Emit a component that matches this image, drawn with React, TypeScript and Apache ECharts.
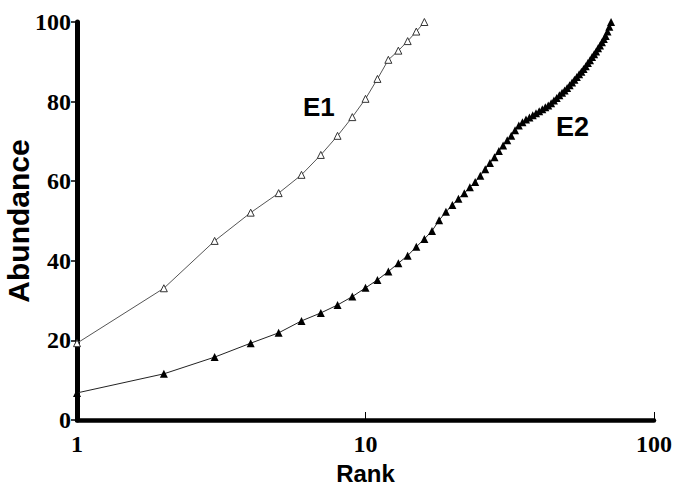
import React, { useEffect, useRef } from "react";
import * as echarts from "echarts";

const e1Abundance = [19.3, 33.1, 45, 52.1, 57, 61.6, 66.6, 71.4, 76.1, 80.7, 85.7, 90.5, 92.8, 95.2, 97.6, 100];
const e2Abundance = [
  6.8, 11.6, 15.8, 19.3, 21.9, 24.9, 26.9, 28.9, 31, 33.2, 35.2, 37.3, 39.4, 41.3, 43.5, 45.5, 47.5,
  50.2, 52.3, 54, 55.6, 57, 58.5, 59.8, 61.4, 63, 64.6, 66, 67.6, 69, 70.3, 71.4, 72.8, 74, 74.8,
  75.5, 76.0, 76.6, 77.1, 77.6, 78.1, 78.6, 79.0, 79.6, 80.3, 80.9, 81.6, 82.2, 82.8, 83.4, 84.1,
  84.8, 85.5, 86.2, 86.9, 87.5, 88.2, 88.9, 89.7, 90.4, 91.2, 91.9, 92.6, 93.4, 94.1, 94.9, 95.7,
  96.5, 97.6, 98.8, 100,
];
const seriesNames = ["E1", "E2"];
const yTicks = [0, 20, 40, 60, 80, 100];

const toPairs = (vals: number[]) => vals.map((v, i) => [i + 1, v]);

export default function App() {
  const ref = useRef<HTMLDivElement>(null);
  useEffect(() => {
    if (!ref.current) return;
    const chart = echarts.init(ref.current, undefined, { renderer: "svg" });
    chart.setOption({
      animation: false,
      backgroundColor: "#fff",
      grid: { left: 77, right: 20, top: 22, bottom: 66, containLabel: false, outerBoundsMode: "none" },
      xAxis: {
        type: "log",
        logBase: 10,
        min: 1,
        max: 100,
        name: "Rank",
        nameLocation: "middle",
        nameGap: 41,
        nameMoveOverlap: false,
        nameTextStyle: { fontFamily: "Liberation Sans", fontWeight: "bold", fontSize: 24, color: "#000" },
        axisLine: { show: true, lineStyle: { color: "#000", width: 4.5 } },
        axisTick: { show: true, inside: true, length: 8, lineStyle: { color: "#000", width: 1 } },
        minorTick: { show: false },
        splitLine: { show: false },
        axisLabel: {
          fontFamily: "Liberation Serif",
          fontWeight: "bold",
          fontSize: 24,
          color: "#000",
          margin: 12,
        },
      },
      yAxis: {
        type: "value",
        min: yTicks[0],
        max: yTicks[yTicks.length - 1],
        interval: 20,
        name: "Abundance",
        nameLocation: "middle",
        nameGap: 44,
        nameMoveOverlap: false,
        nameRotate: 90,
        nameTextStyle: { fontFamily: "Liberation Sans", fontWeight: "bold", fontSize: 30, color: "#000" },
        axisLine: { show: true, lineStyle: { color: "#000", width: 5 } },
        axisTick: { show: true, inside: false, length: 6, lineStyle: { color: "#000", width: 1.5 } },
        splitLine: { show: false },
        axisLabel: {
          fontFamily: "Liberation Serif",
          fontWeight: "bold",
          fontSize: 24,
          color: "#000",
          margin: 6,
        },
      },
      series: [
        {
          name: seriesNames[0],
          type: "line",
          data: toPairs(e1Abundance),
          symbol: "triangle",
          symbolSize: 7,
          showAllSymbol: true,
          lineStyle: { color: "#555", width: 1 },
          itemStyle: { color: "#fff", borderColor: "#333", borderWidth: 1 },
          z: 3,
        },
        {
          name: seriesNames[1],
          type: "line",
          data: toPairs(e2Abundance),
          symbol: "triangle",
          symbolSize: 8,
          showAllSymbol: true,
          lineStyle: { color: "#222", width: 1 },
          itemStyle: { color: "#000", borderColor: "#000", borderWidth: 0 },
          z: 3,
        },
      ],
      graphic: [
        {
          type: "text",
          left: 303,
          top: 94,
          style: { text: seriesNames[0], fontFamily: "Liberation Sans", fontWeight: "bold", fontSize: 26, fill: "#000" },
        },
        {
          type: "text",
          left: 556,
          top: 113,
          style: { text: seriesNames[1], fontFamily: "Liberation Sans", fontWeight: "bold", fontSize: 27, fill: "#000" },
        },
      ],
    });
    return () => chart.dispose();
  }, []);
  return (
    <div
      ref={ref}
      style={{ position: "fixed", left: 0, top: 0, width: 674, height: 486, background: "#fff" }}
    />
  );
}
